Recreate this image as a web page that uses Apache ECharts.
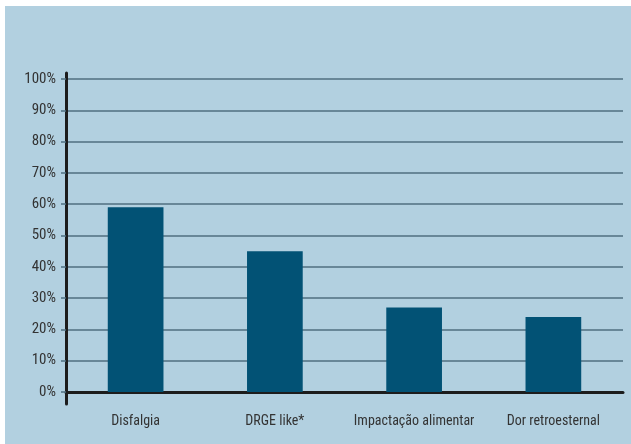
<!DOCTYPE html>
<html>
<head>
<meta charset="utf-8">
<script src="https://cdn.jsdelivr.net/npm/echarts@6/dist/echarts.min.js"></script>
<style>
  html, body { margin: 0; padding: 0; background: #ffffff; width: 631px; height: 444px; overflow: hidden; }
  #panel { position: absolute; left: 5px; top: 6px; width: 626px; height: 438px; background: #b2d0e0; }
  #chart { width: 626px; height: 438px; }
</style>
</head>
<body>
<div id="panel"><div id="chart"></div></div>
<script>
// Symptom frequencies (percent of patients)
const categories = ['Disfalgia', 'DRGE like*', 'Impactação alimentar', 'Dor retroesternal'];
const percentages = [59, 45, 27, 24];
const yTicks = [0, 10, 20, 30, 40, 50, 60, 70, 80, 90, 100];

const labelFont = '"Roboto Condensed", "Liberation Sans Narrow", "Roboto", sans-serif';
const gridColor = '#4f6f80';
const axisColor = '#1c1c1c';

const chart = echarts.init(document.getElementById('chart'), null, { renderer: 'canvas' });

chart.setOption({
  animation: false,
  backgroundColor: 'transparent',
  grid: [
    { left: 61, right: 8, top: 73, bottom: 52 },
    // taller grid carrying only the vertical axis line, which overshoots the plot
    { left: 61, right: 8, top: 67, bottom: 40 }
  ],
  xAxis: [
    {
      type: 'category',
      gridIndex: 0,
      data: categories,
      axisLine: { show: true, lineStyle: { color: axisColor, width: 3 } },
      axisTick: { show: false },
      axisLabel: {
        interval: 0,
        color: '#333333',
        fontFamily: labelFont,
        fontSize: 14,
        margin: 22
      },
      splitLine: { show: false }
    },
    {
      type: 'category',
      gridIndex: 1,
      data: categories,
      show: false
    }
  ],
  yAxis: [
    {
      type: 'value',
      gridIndex: 0,
      min: yTicks[0],
      max: yTicks[yTicks.length - 1],
      interval: 10,
      axisLine: { show: false },
      axisTick: { show: true, length: 5, lineStyle: { color: gridColor, width: 1.5 } },
      axisLabel: {
        color: '#333333',
        fontFamily: labelFont,
        fontSize: 15,
        margin: 10,
        formatter: v => v + '%'
      },
      splitLine: { show: true, lineStyle: { color: gridColor, width: 1.5 } }
    },
    {
      type: 'value',
      gridIndex: 1,
      min: 0,
      max: 1,
      axisLine: { show: true, lineStyle: { color: axisColor, width: 3 } },
      axisTick: { show: false },
      axisLabel: { show: false },
      splitLine: { show: false }
    }
  ],
  series: [
    {
      type: 'bar',
      xAxisIndex: 0,
      yAxisIndex: 0,
      data: percentages,
      barWidth: '40%',
      itemStyle: { color: '#025275' },
      z: 3
    }
  ]
});
</script>
</body>
</html>
